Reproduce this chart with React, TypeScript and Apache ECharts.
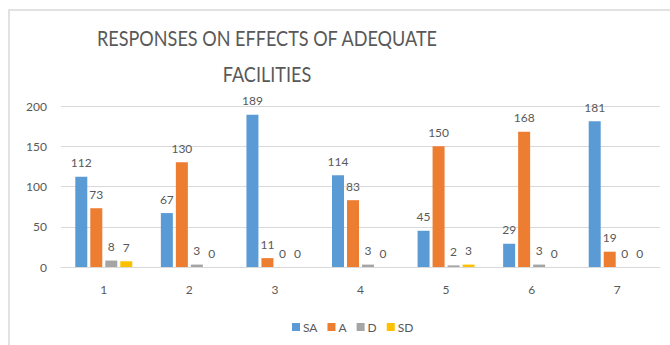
import React, { useEffect, useRef } from "react";
import * as echarts from "echarts";

const categories = ["1", "2", "3", "4", "5", "6", "7"];
const saValues = [112, 67, 189, 114, 45, 29, 181];
const aValues = [73, 130, 11, 83, 150, 168, 19];
const dValues = [8, 3, 0, 3, 2, 3, 0];
const sdValues = [7, 0, 0, 0, 3, 0, 0];
const seriesNames = ["SA", "A", "D", "SD"];
const colors = ["#5B9BD5", "#ED7D31", "#A5A5A5", "#FFC000"];
const titleLines = ["RESPONSES ON EFFECTS OF ADEQUATE", "FACILITIES"];

export default function App() {
  const ref = useRef<HTMLDivElement>(null);
  useEffect(() => {
    if (!ref.current) return;
    const chart = echarts.init(ref.current, undefined, { renderer: "svg" });
    const values = [saValues, aValues, dValues, sdValues];
    const font = "Lato, 'Open Sans', sans-serif";
    chart.setOption({
      animation: false,
      backgroundColor: "#fff",
      graphic: [
        {
          type: "rect",
          shape: { x: 9, y: 10, width: 700, height: 400 },
          style: { fill: "none", stroke: "#D9D9D9", lineWidth: 1.5 },
          silent: true,
        },
        ...titleLines.map((t, i) => ({
          type: "text",
          x: 267,
          y: 38 + i * 36,
          scaleX: 0.86,
          silent: true,
          style: {
            text: t,
            fill: "#595959",
            font: "21px Lato, sans-serif",
            textAlign: "center",
            textVerticalAlign: "middle",
          },
        })),
      ],
      grid: { left: 61, right: 10, top: 106, bottom: 78 },
      legend: {
        data: seriesNames,
        left: 287,
        top: 316,
        icon: "rect",
        itemWidth: 8,
        itemHeight: 8,
        itemGap: 10,
        textStyle: { color: "#595959", fontSize: 12, fontFamily: font, padding: [0, 0, 0, -2] },
      },
      xAxis: {
        type: "category",
        data: categories,
        axisLine: { lineStyle: { color: "#D9D9D9" } },
        axisTick: { show: false },
        axisLabel: { color: "#595959", fontSize: 12, fontFamily: font, margin: 16 },
      },
      yAxis: {
        type: "value",
        min: 0,
        max: 200,
        interval: 50,
        axisLine: { show: false },
        axisTick: { show: false },
        splitLine: { lineStyle: { color: "#D9D9D9" } },
        axisLabel: { color: "#595959", fontSize: 12, fontFamily: font, margin: 14 },
      },
      series: seriesNames.map((name, i) => ({
        name,
        type: "bar",
        data: values[i],
        barWidth: 12,
        barGap: "25%",
        itemStyle: { color: colors[i] },
        label: {
          show: true,
          position: "top",
          distance: 8,
          color: "#595959",
          fontSize: 12,
          fontFamily: font,
        },
      })),
    });
    return () => chart.dispose();
  }, []);
  return (
    <div
      ref={ref}
      style={{ position: "fixed", left: 0, top: 0, width: 670, height: 345 }}
    />
  );
}
